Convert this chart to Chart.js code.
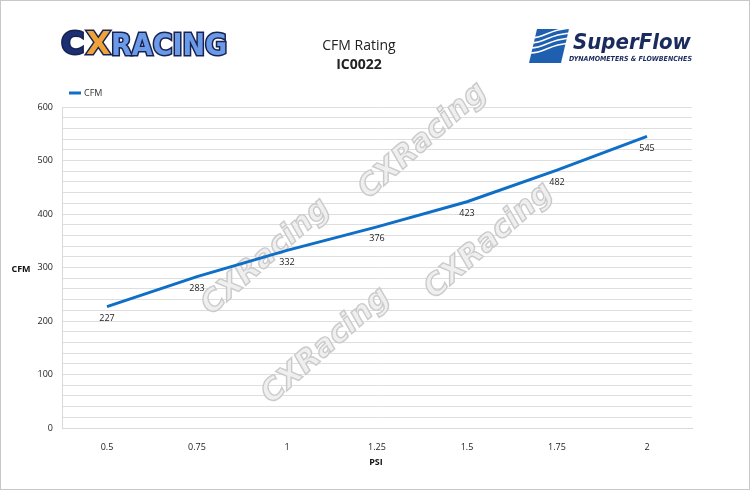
<!DOCTYPE html>
<html>
<head>
<meta charset="utf-8">
<script src="https://cdn.jsdelivr.net/npm/chart.js@4"></script>
<style>
  html, body { margin: 0; padding: 0; background: #fff; }
  #wrap { position: relative; width: 750px; height: 490px; box-sizing: border-box; border: 1px solid #c8c8c8; }
  canvas { display: block; }
</style>
</head>
<body>
<div id="wrap"><canvas id="cfmChart" width="748" height="488"></canvas></div>
<script>
const psiLabels = ['0.5', '0.75', '1', '1.25', '1.5', '1.75', '2'];
const cfmValues = [227, 283, 332, 376, 423, 482, 545];
const yTicksMajor = [0, 100, 200, 300, 400, 500, 600];

const FONT = '"Open Sans", "Liberation Sans", sans-serif';

// header, watermarks, legend, axis titles, point labels
const decorPlugin = {
  id: 'decor',
  beforeDatasetsDraw(chart) {
    const c = chart.ctx;
    c.save();
    const marks = [[422, 140], [265, 256], [488, 240], [325, 345]];
    marks.forEach(([x, y]) => {
      c.save();
      c.translate(x, y);
      c.rotate(-0.72);
      c.font = 'italic 900 30px "DejaVu Sans", sans-serif';
      c.textAlign = 'center';
      c.textBaseline = 'middle';
      c.lineWidth = 1.4;
      c.fillStyle = 'rgba(238,238,238,0.95)';
      c.strokeStyle = 'rgba(200,200,200,0.95)';
      c.fillText('CXRacing', 0, 0);
      c.strokeText('CXRacing', 0, 0);
      c.restore();
    });
    c.restore();
  },
  afterDraw(chart) {
    const c = chart.ctx;
    c.save();
    // title
    c.textAlign = 'center';
    c.textBaseline = 'middle';
    c.fillStyle = '#222';
    c.font = '14px ' + FONT;
    c.fillText('CFM Rating', 358, 45);
    c.font = 'bold 14px ' + FONT;
    c.fillText('IC0022', 358, 64);

    // CX Racing logo
    c.textAlign = 'left';
    c.lineWidth = 3;
    c.strokeStyle = '#17224f';
    c.font = 'bold 32px "DejaVu Sans", sans-serif';
    c.strokeText('C', 60, 45);
    c.fillStyle = '#1d2f73';
    c.fillText('C', 60, 45);
    c.strokeText('X', 85, 45);
    c.fillStyle = '#f0a23a';
    c.fillText('X', 85, 45);
    c.font = 'bold 30px "DejaVu Sans Condensed", sans-serif';
    c.strokeText('RACING', 110, 46);
    c.fillStyle = '#6b9be8';
    c.fillText('RACING', 110, 46);

    // SuperFlow logo
    c.fillStyle = '#1f5fb0';
    c.beginPath();
    c.moveTo(536, 28); c.lineTo(568, 28); c.lineTo(560, 62); c.lineTo(528, 62);
    c.closePath();
    c.fill();
    c.strokeStyle = '#fff';
    c.lineWidth = 1.6;
    for (let i = 0; i < 4; i++) {
      c.beginPath();
      c.moveTo(530, 52 - i * 5);
      c.bezierCurveTo(545, 52 - i * 5, 548, 42 - i * 5, 575, 42 - i * 5);
      c.stroke();
    }
    c.fillStyle = '#1a2b5e';
    c.font = 'italic bold 22px "DejaVu Sans Condensed", sans-serif';
    c.fillText('SuperFlow', 572, 42);
    c.font = 'italic bold 7px "DejaVu Sans Condensed", sans-serif';
    c.fillText('DYNAMOMETERS & FLOWBENCHES', 568, 58);

    // legend
    c.strokeStyle = '#0f6fc6';
    c.lineWidth = 3;
    c.beginPath();
    c.moveTo(68, 92); c.lineTo(80, 92);
    c.stroke();
    c.fillStyle = '#333';
    c.font = '9px ' + FONT;
    c.fillText('CFM', 83, 92);

    // axis titles
    c.font = 'bold 9px ' + FONT;
    c.textAlign = 'center';
    c.fillStyle = '#111';
    c.fillText('CFM', 20, 268);
    c.fillText('PSI', 375, 461);

    // point labels
    const meta = chart.getDatasetMeta(0);
    c.font = '9px ' + FONT;
    c.fillStyle = '#222';
    meta.data.forEach((pt, i) => {
      c.fillText(String(cfmValues[i]), pt.x, pt.y + 12);
    });
    c.restore();
  }
};

new Chart(document.getElementById('cfmChart'), {
  type: 'line',
  data: {
    labels: psiLabels,
    datasets: [{
      label: 'CFM',
      data: cfmValues,
      borderColor: '#0f6fc6',
      borderWidth: 3,
      pointRadius: 0,
      tension: 0,
      fill: false
    }]
  },
  options: {
    responsive: false,
    animation: false,
    layout: { padding: { top: 106, right: 57, left: 0, bottom: 0 } },
    plugins: {
      legend: { display: false },
      tooltip: { enabled: false }
    },
    scales: {
      x: {
        offset: true,
        grid: { display: false, offset: true },
        border: { color: '#d9d9d9', width: 1 },
        ticks: { color: '#222', font: { family: FONT, size: 9 }, padding: 6, maxRotation: 0 },
        afterFit: s => { s.height = 61; }
      },
      y: {
        min: 0,
        max: 600,
        grid: { color: '#dedede', drawTicks: false },
        border: { color: '#d9d9d9', width: 1 },
        ticks: {
          stepSize: 20,
          autoSkip: false,
          padding: 9,
          color: '#222',
          font: { family: FONT, size: 9 },
          callback: v => yTicksMajor.includes(v) ? String(v) : ''
        },
        afterFit: s => { s.width = 61; }
      }
    }
  },
  plugins: [decorPlugin]
});
</script>
</body>
</html>
